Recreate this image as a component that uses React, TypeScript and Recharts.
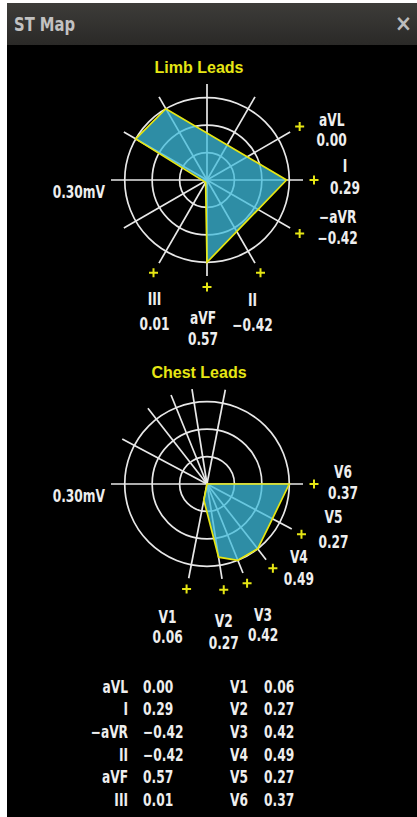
import { RadarChart, Radar, PolarGrid, PolarAngleAxis, PolarRadiusAxis } from 'recharts'

// lead directions are in screen degrees, clockwise from 3 o'clock
const limbLeads = ['aVL', 'I', '−aVR', 'II', 'aVF', 'III']
const limbAngles = [330, 0, 30, 60, 90, 120]
const limbValues = [0.0, 0.29, -0.42, -0.42, 0.57, 0.01]

const chestLeads = ['V1', 'V2', 'V3', 'V4', 'V5', 'V6']
const chestAngles = [101, 81, 68, 52, 28, 0]
const chestValues = [0.06, 0.27, 0.42, 0.49, 0.27, 0.37]

const ringTicks = [0.1, 0.2, 0.3]
const scaleMax = 0.3
const scaleLabel = '0.30mV'

// label block placement relative to each "+" marker: [dx, dy line 1, dy line 2]
const labelOffsets: Record<string, number[]> = {
  aVL: [32, -7, 13],
  I: [31, -14, 8],
  '−aVR': [38, -17, 4],
  II: [-8, 27, 52],
  aVF: [-4, 31, 52],
  III: [1, 26, 51],
  V6: [29, -12, 9],
  V5: [32, -17, 8],
  V4: [26, -11, 11],
  V3: [16, 32, 52],
  V2: [0, 31, 53],
  V1: [-19, 28, 48],
}

const FONT = "'DejaVu Sans Condensed', 'DejaVu Sans', sans-serif"
const TITLE_FONT = "'Liberation Sans', Arial, sans-serif"
const YELLOW = '#e6e614'
const TEXT = '#eeeeee'

const fmt = (v: number) => v.toFixed(2).replace('-', '−')

// condensed white text, squeezed horizontally around its anchor
function Label({ x, y, anchor = 'middle', children }: { x: number; y: number; anchor?: string; children: any }) {
  return (
    <text
      transform={`translate(${x},${y}) scale(0.8,1)`}
      textAnchor={anchor as any}
      fontFamily={FONT}
      fontWeight="bold"
      fontSize={17}
      fill={TEXT}
    >
      {children}
    </text>
  )
}

function buildShape(angles: number[], values: number[]) {
  const pts = values
    .map((v, i) => ({ ang: v < 0 ? (angles[i] + 180) % 360 : angles[i], r: Math.min(Math.abs(v), scaleMax), v }))
    .filter((p) => p.v !== 0)
    .sort((a, b) => a.ang - b.ang)
  // a gap wider than half a turn gets closed through the origin
  for (let i = 0; i < pts.length; i++) {
    const next = i === pts.length - 1 ? pts[0].ang + 360 : pts[i + 1].ang
    if (next - pts[i].ang > 180) {
      pts.splice(i + 1, 0, { ang: pts[i].ang, r: 0, v: 0 })
      break
    }
  }
  return pts.map(({ ang, r }) => ({ ang, r }))
}

interface LeadMapProps {
  leads: string[]
  angles: number[]
  values: number[]
  top: number
  height: number
  cy: number
}

function LeadMap({ leads, angles, values, top, height, cy }: LeadMapProps) {
  const shape = buildShape(angles, values)
  const spokes = [...angles, ...angles.map((a) => (a + 180) % 360)].sort((a, b) => a - b)

  const tick = (p: any) => {
    const { x, y, payload } = p
    if (payload.value === 180) {
      return (
        <Label x={x + 5} y={y + 18} anchor="end">
          {scaleLabel}
        </Label>
      )
    }
    const i = angles.indexOf(payload.value)
    if (i < 0) return <g />
    const [dx, d1, d2] = labelOffsets[leads[i]]
    return (
      <g>
        <path d={`M${x - 4.5},${y}H${x + 4.5}M${x},${y - 4.5}V${y + 4.5}`} stroke={YELLOW} strokeWidth={2} />
        <Label x={x + dx} y={y + d1 + 6}>{leads[i]}</Label>
        <Label x={x + dx} y={y + d2 + 6}>{fmt(values[i])}</Label>
      </g>
    )
  }

  return (
    <div style={{ position: 'absolute', left: 0, top, width: 417, height }}>
      <RadarChart
        width={417}
        height={height}
        data={shape}
        cx={207}
        cy={cy}
        outerRadius={96}
        startAngle={0}
        endAngle={-360}
        margin={{ top: 0, right: 0, bottom: 0, left: 0 }}
      >
        <PolarGrid gridType="circle" stroke="#e8e8e8" strokeWidth={1.7} />
        <PolarAngleAxis
          dataKey="ang"
          type="number"
          domain={[0, 360]}
          ticks={spokes}
          tick={tick}
          tickSize={11}
          tickLine={false}
          axisLine={false}
        />
        <PolarRadiusAxis type="number" domain={[0, 0.35]} ticks={ringTicks} tick={false} axisLine={false} />
        <Radar
          dataKey="r"
          fill="#3dbcdc"
          fillOpacity={0.75}
          stroke={YELLOW}
          strokeWidth={1.7}
          isAnimationActive={false}
        />
      </RadarChart>
    </div>
  )
}

const rowY = [687, 709, 732, 755, 777, 800]

function LeadTable() {
  return (
    <svg width={417} height={817} style={{ position: 'absolute', left: 0, top: 0 }}>
      {limbLeads.map((l, i) => (
        <g key={l}>
          <Label x={128} y={rowY[i] + 6} anchor="end">{l}</Label>
          <Label x={143} y={rowY[i] + 6} anchor="start">{fmt(limbValues[i])}</Label>
        </g>
      ))}
      {chestLeads.map((l, i) => (
        <g key={l}>
          <Label x={248} y={rowY[i] + 6} anchor="end">{l}</Label>
          <Label x={264} y={rowY[i] + 6} anchor="start">{fmt(chestValues[i])}</Label>
        </g>
      ))}
    </svg>
  )
}

export default function App() {
  const title = {
    position: 'absolute' as const,
    left: 0,
    width: 398,
    textAlign: 'center' as const,
    fontFamily: TITLE_FONT,
    fontWeight: 'bold' as const,
    fontSize: 16,
    color: YELLOW,
    lineHeight: '20px',
  }
  return (
    <div style={{ position: 'fixed', left: 0, top: 0, width: 417, height: 817, background: '#fff', overflow: 'hidden' }}>
      <div style={{ position: 'absolute', left: 7, top: 3, width: 410, height: 814, background: '#000' }} />
      <div
        style={{
          position: 'absolute',
          left: 7,
          top: 3,
          width: 410,
          height: 42,
          background: 'linear-gradient(#3d3c39, #2a2927)',
          fontFamily: FONT,
          fontWeight: 'bold',
        }}
      >
        <span
          style={{
            position: 'absolute',
            left: 7,
            top: 10,
            fontSize: 20,
            color: '#c2c2c2',
            lineHeight: '22px',
            transform: 'scaleX(0.82)',
            transformOrigin: 'left',
            whiteSpace: 'nowrap',
          }}
        >
          ST Map
        </span>
        <span style={{ position: 'absolute', right: 5, top: 9, fontSize: 23, color: '#bcbcbc', lineHeight: '22px' }}>×</span>
      </div>
      <div style={{ ...title, top: 58 }}>Limb Leads</div>
      <div style={{ ...title, top: 363 }}>Chest Leads</div>
      <LeadMap leads={limbLeads} angles={limbAngles} values={limbValues} top={40} height={320} cy={140} />
      <LeadMap leads={chestLeads} angles={chestAngles} values={chestValues} top={380} height={280} cy={104} />
      <LeadTable />
    </div>
  )
}
